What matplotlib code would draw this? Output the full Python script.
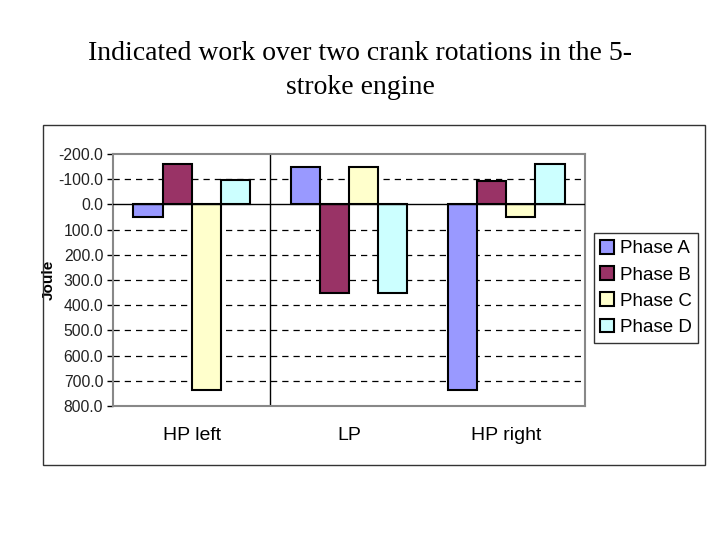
import matplotlib
matplotlib.use("Agg")
import matplotlib.pyplot as plt
import matplotlib.patches as mpatches
import numpy as np

categories = ["HP left", "LP", "HP right"]
phases = ["Phase A", "Phase B", "Phase C", "Phase D"]
phase_a = [50, -148, 735]
phase_b = [-160, 350, -93]
phase_c = [735, -148, 50]
phase_d = [-95, 350, -160]
colors = ["#9999FF", "#993366", "#FFFFCC", "#CCFFFF"]
yticks = [-200, -100, 0, 100, 200, 300, 400, 500, 600, 700, 800]

plt.rcParams['font.family'] = ['Liberation Sans', 'DejaVu Sans']
fig = plt.figure(figsize=(7.2, 5.4), dpi=100)

# outer chart frame
fig.patches.append(mpatches.Rectangle((43/720, 1-465/540), (705-43)/720, (465-125)/540,
                                      transform=fig.transFigure, fill=False,
                                      edgecolor="#333333", linewidth=1.0))

ax = fig.add_axes([113/720, 1-406/540, (585-113)/720, (406-154)/540])
x = np.arange(len(categories))
w = 0.185
series = [phase_a, phase_b, phase_c, phase_d]
for i, (vals, c, name) in enumerate(zip(series, colors, phases)):
    ax.bar(x + (i - 1.5) * w, vals, width=w, color=c, edgecolor="black",
           linewidth=1.5, label=name, zorder=3)

ax.set_xlim(-0.5, 2.5)
ax.set_ylim(800, -200)
ax.set_yticks(yticks)
ax.set_yticklabels([f"{v:.1f}" for v in yticks], fontsize=11.3, color="#222222")
for v in yticks[1:-1]:
    if v == 0:
        continue
    ax.axhline(v, color="black", linestyle=(0, (5, 4)), linewidth=0.9, zorder=1)
ax.axhline(0, color="black", linewidth=1.0, zorder=4)
ax.axvline(0.5, color="black", linewidth=1.0, zorder=2)
ax.set_xticks(x)
ax.set_xticklabels(categories, fontsize=14)
ax.tick_params(axis='x', length=0, pad=15)
ax.tick_params(axis='y', length=4, width=1, pad=3)
for s in ax.spines.values():
    s.set_color("#888888")
    s.set_linewidth(1.5)
ax.set_ylabel("Joule", fontsize=11, fontweight="bold")
ax.yaxis.set_label_coords(-0.122, 0.5)

leg = fig.legend(loc="center", bbox_to_anchor=(646/720, 1-288/540), fontsize=13.5,
                 frameon=True, fancybox=False, edgecolor="black", handlelength=0.75,
                 handleheight=0.75, handletextpad=0.3, borderpad=0.35, labelspacing=0.47)
leg.get_frame().set_linewidth(1.0)

fig.text(0.5, 1-53/540, "Indicated work over two crank rotations in the 5-",
         ha="center", va="center", fontsize=20, family="Liberation Serif")
fig.text(0.5, 1-88/540, "stroke engine",
         ha="center", va="center", fontsize=20, family="Liberation Serif")

fig.savefig("out.png", dpi=100)
